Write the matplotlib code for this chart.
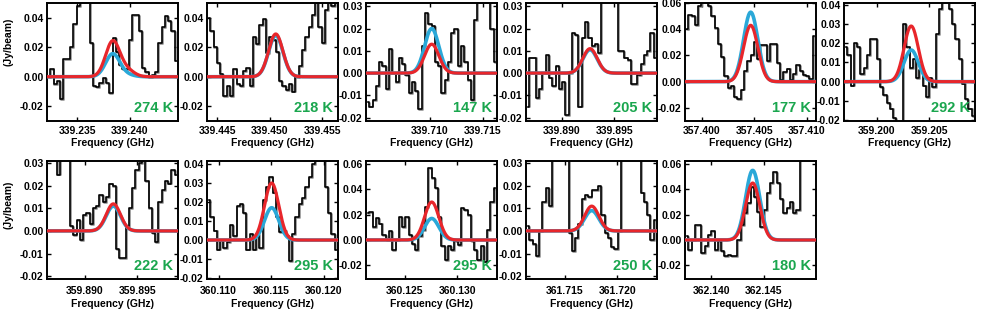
import numpy as np
import matplotlib
matplotlib.use('Agg')
import matplotlib.pyplot as plt
import matplotlib.transforms as mtransforms

plt.rcParams['font.family'] = ['Liberation Sans', 'DejaVu Sans']
plt.rcParams['font.weight'] = 'bold'
plt.rcParams['axes.unicode_minus'] = False

# ---------------- data ----------------
chan_width = 0.000312          # GHz, channel spacing of the spectra
first_freq = [339.23226, 339.44416, 339.70406, 339.88676, 357.39856,
              359.19706, 359.88656, 360.10906, 360.12146, 361.71146, 362.13766]

spec_1 = [0.000, 0.005, -0.005, -0.003, -0.015, 0.012, 0.012, 0.020, 0.036, 0.048,
          0.060, 0.060, 0.060, 0.023, -0.006, -0.007, -0.004, -0.001, -0.004, -0.011,
          0.026, 0.017, 0.008, 0.005, 0.005, 0.025, 0.042, 0.042, 0.031, 0.006,
          0.003, 0.000, 0.001, 0.003, 0.023, 0.034, 0.041, 0.038, 0.031, 0.011]
spec_2 = [0.040, 0.031, 0.020, 0.009, 0.002, -0.013, -0.006, -0.013, 0.005, -0.005,
          -0.006, 0.004, 0.006, -0.006, 0.027, 0.022, 0.035, 0.039, 0.016, 0.027,
          0.025, 0.017, -0.003, -0.006, -0.009, -0.005, -0.010, 0.000, 0.007, 0.018,
          0.027, 0.034, 0.042, 0.055, 0.034, 0.023, 0.045, 0.055, 0.048, 0.055]
spec_3 = [-0.013, -0.015, -0.012, -0.006, 0.005, 0.003, -0.007, 0.011, 0.000, -0.004,
          0.007, 0.004, -0.001, -0.009, -0.004, -0.008, -0.016, 0.012, 0.027, 0.022,
          0.021, 0.005, 0.003, -0.009, -0.003, 0.005, 0.018, 0.020, 0.003, 0.012,
          0.005, -0.003, -0.012, 0.024, 0.035, 0.040, 0.040, 0.035, 0.020, 0.005]
spec_4 = [-0.015, 0.007, 0.007, -0.011, -0.007, 0.000, 0.008, -0.002, -0.006, 0.003,
          -0.007, -0.004, -0.019, 0.000, 0.018, 0.017, -0.015, 0.016, 0.023, 0.016,
          0.012, 0.013, 0.009, 0.040, 0.040, 0.040, 0.040, 0.040, 0.010, 0.010,
          0.007, 0.006, -0.005, -0.005, -0.001, 0.004, 0.008, 0.010, 0.018, 0.007]
spec_5 = [0.040, 0.051, 0.050, 0.043, 0.058, 0.065, 0.065, 0.058, 0.050, 0.041,
          0.029, 0.019, 0.004, -0.005, -0.003, -0.012, -0.013, -0.006, 0.008, 0.016,
          0.020, 0.030, 0.017, 0.028, 0.028, 0.016, 0.029, 0.029, 0.014, 0.001,
          0.007, 0.010, 0.001, 0.006, 0.013, 0.008, 0.005, 0.004, 0.002, 0.035]
spec_6 = [0.018, 0.014, -0.002, 0.020, 0.018, 0.004, 0.007, 0.014, 0.022, 0.022,
          0.012, -0.003, -0.007, -0.011, -0.014, -0.019, -0.025, -0.025, 0.030, 0.018,
          0.007, 0.012, 0.002, 0.006, -0.002, -0.008, 0.002, -0.003, 0.025, 0.038,
          0.045, 0.045, 0.038, 0.030, 0.022, 0.012, -0.001, -0.009, -0.014, -0.018]
spec_7 = [0.040, 0.040, 0.040, 0.025, 0.040, 0.040, 0.040, 0.002, -0.002, 0.005,
          -0.004, 0.007, 0.008, 0.003, 0.010, 0.011, 0.016, 0.013, 0.015, 0.021,
          0.020, -0.008, -0.012, -0.012, 0.002, 0.010, 0.019, 0.027, 0.030, 0.040,
          0.022, 0.010, -0.001, -0.005, 0.013, 0.018, 0.022, 0.021, 0.027, 0.025]
spec_8 = [0.021, 0.012, 0.005, -0.005, 0.000, -0.004, -0.001, 0.008, 0.002, 0.018,
          0.019, 0.014, -0.005, 0.003, -0.005, 0.003, -0.004, 0.021, 0.028, 0.033,
          0.025, 0.012, 0.004, 0.005, 0.002, -0.011, 0.003, 0.012, 0.019, 0.022,
          0.028, 0.033, 0.040, 0.045, 0.045, 0.045, 0.028, 0.014, 0.003, -0.005]
spec_9 = [0.021, 0.022, 0.010, 0.017, 0.013, 0.004, 0.000, 0.007, -0.008, 0.000,
          0.018, 0.010, 0.018, 0.004, -0.003, -0.008, 0.003, 0.008, 0.026, 0.057,
          0.049, 0.041, 0.018, -0.005, -0.016, -0.005, -0.008, -0.001, -0.004, 0.025,
          0.024, 0.020, -0.001, -0.008, -0.016, -0.005, -0.017, 0.008, 0.030, 0.041]
spec_10 = [0.002, -0.004, -0.006, -0.011, 0.000, 0.013, 0.019, 0.011, 0.040, 0.040,
           0.040, 0.040, 0.040, -0.001, -0.009, -0.003, 0.003, 0.014, 0.016, 0.015,
           0.018, 0.018, 0.020, 0.007, -0.001, -0.003, -0.007, -0.008, 0.000, 0.040,
           0.040, 0.040, 0.040, 0.040, 0.040, 0.017, 0.013, 0.007, -0.004, 0.005]
spec_11 = [0.003, -0.008, 0.000, 0.012, 0.012, -0.010, -0.005, 0.004, 0.007, -0.008,
           -0.001, -0.009, -0.013, -0.012, -0.013, -0.013, 0.000, 0.012, 0.021, 0.029,
           0.042, 0.034, 0.022, 0.010, 0.024, 0.037, 0.045, 0.054, 0.045, 0.032,
           0.021, 0.025, 0.030, 0.021, 0.024, 0.080, 0.080, 0.080, 0.080, 0.080]
spectra = [spec_1, spec_2, spec_3, spec_4, spec_5, spec_6,
           spec_7, spec_8, spec_9, spec_10, spec_11]

# Gaussian model fits: centre (GHz), red amplitude, blue amplitude (Jy/beam)
line_center = [339.23836, 339.45055, 339.71016, 339.89270, 357.40466, 359.20330,
               359.89272, 360.11506, 360.12756, 361.71756, 362.14395]
amp_red = [0.024, 0.029, 0.013, 0.011, 0.043, 0.029, 0.012, 0.030, 0.030, 0.011, 0.045]
amp_blue = [0.0155, 0.028, 0.020, 0.0105, 0.053, 0.0165, 0.011, 0.017, 0.017, 0.009, 0.055]
line_sigma = 0.00068
# weak secondary component in the first panel
sec_center = 339.23975
sec_amp_red = 0.0042
sec_amp_blue = 0.0012

temperatures = ['274 K', '218 K', '147 K', '205 K', '177 K', '292 K',
                '222 K', '295 K', '295 K', '250 K', '180 K']

x_ticks = [[339.235, 339.240], [339.445, 339.450, 339.455], [339.710, 339.715],
           [339.890, 339.895], [357.400, 357.405, 357.410], [359.200, 359.205],
           [359.890, 359.895], [360.110, 360.115, 360.120], [360.125, 360.130],
           [361.715, 361.720], [362.140, 362.145]]
x_start = [339.2321, 339.4440, 339.7039, 339.8866, 357.3984, 359.1969,
           359.8864, 360.1089, 360.1213, 361.7113, 362.1375]
x_span = 0.01248

y_ticks = [[-0.02, 0.0, 0.02, 0.04], [-0.02, 0.0, 0.02, 0.04],
           [-0.02, -0.01, 0.0, 0.01, 0.02, 0.03], [-0.02, -0.01, 0.0, 0.01, 0.02, 0.03],
           [-0.02, 0.0, 0.02, 0.04, 0.06], [-0.02, -0.01, 0.0, 0.01, 0.02, 0.03, 0.04],
           [-0.02, -0.01, 0.0, 0.01, 0.02, 0.03], [-0.02, -0.01, 0.0, 0.01, 0.02, 0.03, 0.04],
           [-0.02, 0.0, 0.02, 0.04, 0.06], [-0.02, -0.01, 0.0, 0.01, 0.02, 0.03],
           [-0.02, 0.0, 0.02, 0.04, 0.06]]
y_lims = [(-0.030, 0.050), (-0.030, 0.050), (-0.0215, 0.0315), (-0.0215, 0.0315),
          (-0.030, 0.060), (-0.0205, 0.041), (-0.0213, 0.031), (-0.0205, 0.0416),
          (-0.0308, 0.0624), (-0.0213, 0.031), (-0.0308, 0.0624)]

# ---------------- figure ----------------
W, H = 981, 309
fig = plt.figure(figsize=(W / 100, H / 100), dpi=100)

col_left = [47, 207, 366, 526, 685, 844]
row_top = [3, 161]
ax_w, ax_h = 131, 118

RED = '#E8262B'
BLUE = '#2AA8D8'
GREEN = '#1AA64E'


def gauss(x, a, c, s):
    return a * np.exp(-0.5 * ((x - c) / s) ** 2)


for i in range(11):
    r = 0 if i < 6 else 1
    c = i if i < 6 else i - 6
    left = col_left[c] / W
    bottom = 1 - (row_top[r] + ax_h) / H
    ax = fig.add_axes([left, bottom, ax_w / W, ax_h / H])

    vals = np.array(spectra[i])
    freqs = first_freq[i] + chan_width * np.arange(len(vals))
    shadow = mtransforms.offset_copy(ax.transData, fig=fig, x=0.9, y=-0.9, units='dots')
    ax.step(freqs, vals, where='mid', color='#8a8a8a', lw=1.1, transform=shadow, zorder=2)
    ax.step(freqs, vals, where='mid', color='black', lw=1.2, zorder=3)

    xs = np.linspace(x_start[i] - 0.001, x_start[i] + x_span + 0.001, 600)
    yb = gauss(xs, amp_blue[i], line_center[i], line_sigma)
    yr = gauss(xs, amp_red[i], line_center[i], line_sigma)
    if i == 0:
        yb = yb + gauss(xs, sec_amp_blue, sec_center, line_sigma)
        yr = yr + gauss(xs, sec_amp_red, sec_center, line_sigma)
    ax.plot(xs, yb, color=BLUE, lw=2.6, zorder=4, solid_capstyle='butt')
    ax.plot(xs, yr, color=RED, lw=2.3, zorder=5, solid_capstyle='butt')

    ax.set_xlim(x_start[i], x_start[i] + x_span)
    ax.set_ylim(*y_lims[i])
    ax.set_xticks(x_ticks[i])
    ax.set_xticklabels(['%.3f' % t for t in x_ticks[i]])
    ax.set_yticks(y_ticks[i])
    ax.set_yticklabels(['%.2f' % t for t in y_ticks[i]])
    ax.tick_params(direction='in', length=3, width=1.0, labelsize=7.5, pad=2.5,
                   top=True, right=True)
    ax.tick_params(axis='x', pad=3.5 if r == 0 else 5)
    for lab in ax.get_xticklabels() + ax.get_yticklabels():
        lab.set_fontweight('bold')
    for sp in ax.spines.values():
        sp.set_linewidth(1.4)
    ax.set_xlabel('Frequency (GHz)', fontsize=7.5, fontweight='bold',
                  labelpad=1.5 if r == 0 else 2)
    ax.text(0.965, 0.055, temperatures[i], transform=ax.transAxes, ha='right',
            va='bottom', color=GREEN, fontsize=10.5, fontweight='bold', zorder=6)

fig.text(9 / W, 1 - 42 / H, '(Jy/beam)', rotation=90, ha='center', va='center',
         fontsize=7.5, fontweight='bold')
fig.text(9 / W, 1 - 205 / H, '(Jy/beam)', rotation=90, ha='center', va='center',
         fontsize=7.5, fontweight='bold')

fig.savefig('out.png', dpi=100)
